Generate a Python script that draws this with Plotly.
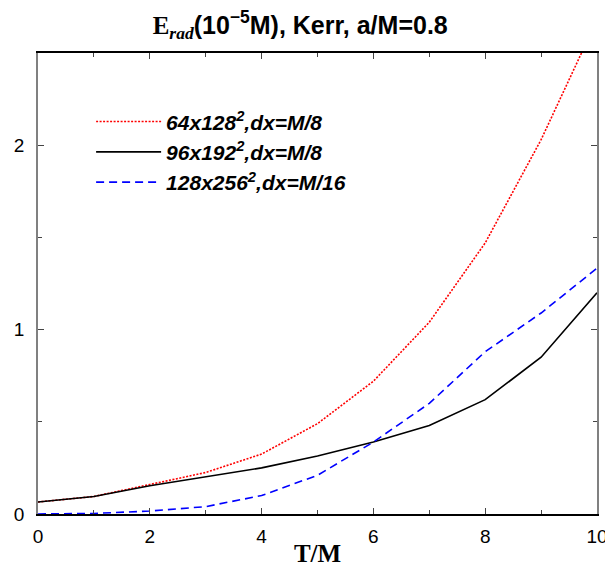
import plotly.graph_objects as go

t = [0, 1, 2, 3, 4, 5, 6, 7, 8, 9, 10]
e_64 = [0.065, 0.095, 0.16, 0.225, 0.325, 0.49, 0.72, 1.04, 1.47, 2.03, 2.68]
e_96 = [0.065, 0.095, 0.153, 0.20, 0.25, 0.315, 0.39, 0.48, 0.62, 0.85, 1.20]
e_128 = [0.0, 0.003, 0.016, 0.04, 0.10, 0.21, 0.39, 0.60, 0.88, 1.09, 1.333]

names = ["<b><i>64x128<sup>2</sup>,dx=M/8</i></b>",
         "<b><i>96x192<sup>2</sup>,dx=M/8</i></b>",
         "<b><i>128x256<sup>2</sup>,dx=M/16</i></b>"]

fig = go.Figure()
fig.add_trace(go.Scatter(x=t, y=e_64, mode="lines", name=names[0],
                         line=dict(color="#ff0000", width=1.6, dash="2px,1.5px")))
fig.add_trace(go.Scatter(x=t, y=e_96, mode="lines", name=names[1],
                         line=dict(color="black", width=1.6)))
fig.add_trace(go.Scatter(x=t, y=e_128, mode="lines", name=names[2],
                         line=dict(color="#0000ff", width=1.6, dash="8px,5px")))

# page body has an 8px margin, so the figure is sized to fit the window
fig.update_layout(
    width=605, height=559,
    margin=dict(l=30, r=16, t=45, b=53),
    plot_bgcolor="white", paper_bgcolor="white",
    font=dict(family="Liberation Sans, Arial", color="black", size=19),
    title=dict(
        text='<b><span style="font-family:Liberation Serif">E<sub><i>rad</i></sub></span>(10<sup>−5</sup>M), Kerr, a/M=0.8</b>',
        x=0.483, xanchor="center", y=0.97, yanchor="middle",
        font=dict(size=25, family="Liberation Sans, Arial")),
    showlegend=True,
    legend=dict(x=0.095, y=0.895, xanchor="left", yanchor="top",
                bgcolor="rgba(0,0,0,0)", borderwidth=0, itemwidth=65,
                font=dict(size=21, family="Liberation Sans, Arial"),
                tracegroupgap=0),
    xaxis=dict(range=[0, 10], dtick=2, tick0=0, ticks="inside", ticklen=6,
               mirror="ticks", showline=True, linecolor="black", linewidth=1.5,
               showgrid=False, zeroline=False, automargin=False,
               ticklabelstandoff=4,
               tickfont=dict(size=19),
               minor=dict(dtick=1, ticks="inside", ticklen=4, showgrid=False),
               title=dict(text="<b>T/M</b>", standoff=8,
                          font=dict(size=25, family="Liberation Serif, Times New Roman"))),
    yaxis=dict(range=[0, 2.5], dtick=1, tick0=0, ticks="inside", ticklen=6,
               mirror="ticks", showline=True, linecolor="#808080", linewidth=1.5,
               showgrid=False, zeroline=False, automargin=False,
               ticklabelstandoff=8,
               tickfont=dict(size=19),
               minor=dict(dtick=0.5, ticks="inside", ticklen=4, showgrid=False)),
)

fig.write_html("out.html")
